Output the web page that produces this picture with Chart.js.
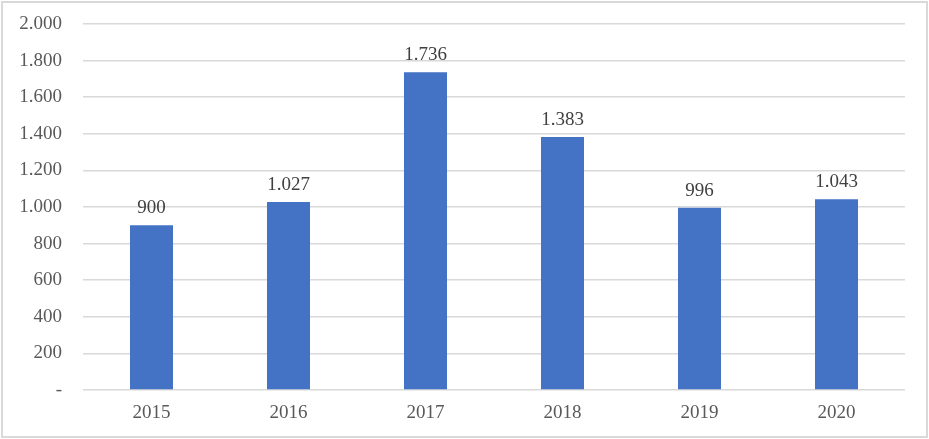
<!DOCTYPE html>
<html>
<head>
<meta charset="utf-8">
<script src="https://cdn.jsdelivr.net/npm/chart.js@4/dist/chart.umd.min.js"></script>
<style>
  html, body { margin: 0; padding: 0; background: #fff; }
  #wrap { width: 929px; height: 439px; position: relative; }
</style>
</head>
<body>
<div id="wrap"><canvas id="yearChart" width="929" height="439"></canvas></div>
<script>
const years = ['2015', '2016', '2017', '2018', '2019', '2020'];
const counts = [900, 1027, 1736, 1383, 996, 1043];
const yTicks = [0, 200, 400, 600, 800, 1000, 1200, 1400, 1600, 1800, 2000];

// dot as thousands separator, dash for zero
function fmt(v) {
  if (v === 0) return '-';
  return String(v).replace(/\B(?=(\d{3})+(?!\d))/g, '.');
}

const serif = 'Liberation Serif, "Times New Roman", serif';

// outer frame
const framePlugin = {
  id: 'frame',
  beforeDraw(chart) {
    const ctx = chart.ctx;
    ctx.save();
    ctx.fillStyle = '#fff';
    ctx.fillRect(0, 0, chart.width, chart.height);
    ctx.strokeStyle = '#d9d9d9';
    ctx.lineWidth = 2;
    ctx.strokeRect(2, 2, chart.width - 4, chart.height - 4);
    ctx.restore();
  }
};

// value labels above the bars
const valueLabels = {
  id: 'valueLabels',
  afterDatasetsDraw(chart) {
    const ctx = chart.ctx;
    const meta = chart.getDatasetMeta(0);
    ctx.save();
    ctx.font = '19px ' + serif;
    ctx.fillStyle = '#404040';
    ctx.textAlign = 'center';
    ctx.textBaseline = 'alphabetic';
    meta.data.forEach((bar, i) => {
      ctx.fillText(fmt(counts[i]), bar.x, bar.y - 12);
    });
    ctx.restore();
  }
};

new Chart(document.getElementById('yearChart').getContext('2d'), {
  type: 'bar',
  data: {
    labels: years,
    datasets: [{
      data: counts,
      backgroundColor: '#4472c4',
      borderWidth: 0,
      categoryPercentage: 1,
      barPercentage: 0.314
    }]
  },
  options: {
    responsive: false,
    animation: false,
    layout: { padding: { top: 24, right: 24, bottom: 0, left: 0 } },
    plugins: {
      legend: { display: false },
      tooltip: { enabled: false }
    },
    scales: {
      x: {
        grid: { display: false, drawTicks: false },
        border: { display: false },
        ticks: {
          color: '#595959',
          font: { family: serif, size: 19 },
          padding: 12
        },
        afterFit(scale) {
          scale.height = 49;
          scale.paddingLeft = 0;
          scale.paddingRight = 0;
        }
      },
      y: {
        min: 0,
        max: 2000,
        afterBuildTicks(scale) {
          scale.ticks = yTicks.map(v => ({ value: v }));
        },
        grid: { color: '#d9d9d9', lineWidth: 1.5, drawTicks: false },
        border: { display: false },
        ticks: {
          color: '#595959',
          font: { family: serif, size: 19 },
          padding: 21,
          callback: v => fmt(v)
        },
        afterFit(scale) {
          scale.width = 83;
          scale.paddingTop = 0;
          scale.paddingBottom = 0;
        }
      }
    }
  },
  plugins: [framePlugin, valueLabels]
});
</script>
</body>
</html>
